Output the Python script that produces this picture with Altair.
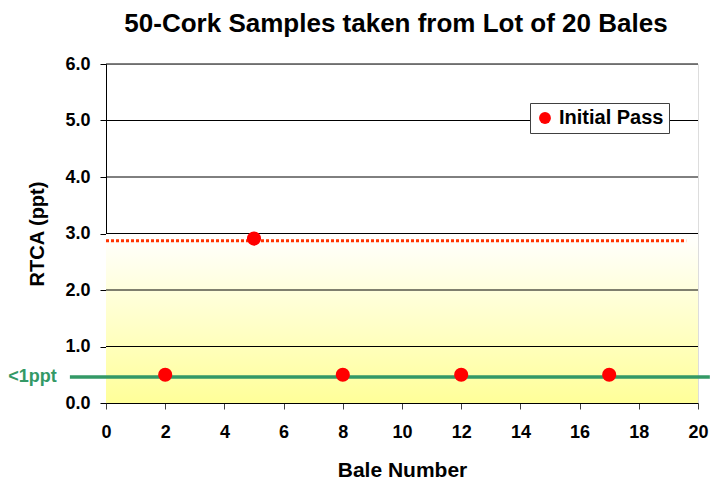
import altair as alt
import pandas as pd

# ---- data ----
bale = [2, 5, 8, 12, 17]
rtca = [0.5, 2.91, 0.5, 0.5, 0.5]
series = ["Initial Pass"] * 5

y_ticks = [0, 1, 2, 3, 4, 5, 6]
x_ticks = [0, 2, 4, 6, 8, 10, 12, 14, 16, 18, 20]
grid_levels = [1, 2, 3, 4, 5, 6]

max_level = 2.87
max_x = [0, 19.6]

limit_level = 0.46
limit_x = [-1.22, 20.4]
limit_label = "<1ppt"
limit_label_x = -1.66

band_x = [0, 20]
band_y = [0, 3]

FONT = "Liberation Sans"

pts = pd.DataFrame({"bale": bale, "rtca": rtca, "series": series})
grid = pd.DataFrame({"y": grid_levels, "x": [band_x[0]] * len(grid_levels), "x2": [band_x[1]] * len(grid_levels)})
maxdf = pd.DataFrame({"x": [max_x[0]], "x2": [max_x[1]], "y": [max_level]})
limdf = pd.DataFrame({"x": [limit_x[0]], "x2": [limit_x[1]], "y": [limit_level]})
labdf = pd.DataFrame({"x": [limit_label_x], "y": [limit_level], "t": [limit_label]})
banddf = pd.DataFrame({"x": [band_x[0]], "x2": [band_x[1]], "y": [band_y[0]], "y2": [band_y[1]]})

xscale = alt.Scale(domain=[0, 20], nice=False, zero=False)
yscale = alt.Scale(domain=[0, 6], nice=False)

xaxis = alt.Axis(values=x_ticks, format="d", title="Bale Number", grid=False, labelFlush=False,
                 labelFontSize=18, labelFont=FONT, labelFontWeight="bold", labelColor="black",
                 titleFontSize=21, titleFont=FONT, titleFontWeight="bold", titleColor="black",
                 tickSize=6, labelPadding=14, titlePadding=18, domainColor="black", tickColor="#404040")
yaxis = alt.Axis(values=y_ticks, format=".1f", title="RTCA (ppt)", grid=False,
                 labelFontSize=18, labelFont=FONT, labelFontWeight="bold", labelColor="black",
                 titleFontSize=20, titleFont=FONT, titleFontWeight="bold", titleColor="black",
                 tickSize=6, labelPadding=10, titlePadding=17, domainColor="black", tickColor="black")

bg = alt.Chart(banddf).mark_rect(
    fill=alt.Gradient(gradient="linear",
                      stops=[alt.GradientStop(offset=0, color="#FFFFFF"),
                             alt.GradientStop(offset=1, color="#FFFF99")],
                      x1=0, x2=0, y1=0, y2=1),
    strokeWidth=0
).encode(
    x=alt.X("x:Q", scale=xscale, axis=xaxis),
    x2="x2:Q",
    y=alt.Y("y:Q", scale=yscale, axis=yaxis),
    y2="y2:Q",
)

gridlines = alt.Chart(grid).mark_rule(color="black", strokeWidth=1).encode(
    x="x:Q", x2="x2:Q", y="y:Q"
)

maxline = alt.Chart(maxdf).mark_rule(color="#FF3300", strokeWidth=3, strokeDash=[3, 2]).encode(
    x="x:Q", x2="x2:Q", y="y:Q"
)

limline = alt.Chart(limdf).mark_rule(color="#339966", strokeWidth=3.5, clip=False).encode(
    x="x:Q", x2="x2:Q", y="y:Q"
)

limtext = alt.Chart(labdf).mark_text(color="#339966", font=FONT, fontWeight="bold", fontSize=18,
                                     align="right", baseline="middle", clip=False).encode(
    x="x:Q", y="y:Q", text="t:N"
)

points = alt.Chart(pts).mark_point(filled=True, size=200, opacity=1, shape="circle").encode(
    x="bale:Q",
    y="rtca:Q",
    color=alt.Color("series:N",
                    scale=alt.Scale(domain=["Initial Pass"], range=["#FF0000"]),
                    legend=alt.Legend(title=None, orient="none", legendX=424, legendY=39,
                                      fillColor="white", strokeColor="#404040", padding=5,
                                      symbolType="circle", symbolSize=140, symbolStrokeWidth=0,
                                      labelFont=FONT, labelFontSize=20, labelFontWeight="bold",
                                      labelColor="black", labelOffset=4)),
)

chart = alt.layer(bg, gridlines, maxline, limline, limtext, points).properties(
    width=592,
    height=339,
    padding={"left": 98, "top": 56, "right": 12, "bottom": 80},
    autosize=alt.AutoSizeParams(type="none"),
    title=alt.TitleParams("50-Cork Samples taken from Lot of 20 Bales", font=FONT, fontSize=26,
                          fontWeight="bold", color="black", anchor="middle", dx=-6, offset=18),
).configure_view(stroke="#808080", strokeWidth=1).configure(background="white")

chart.save("out.html", embed_options={"renderer": "svg", "actions": False})
